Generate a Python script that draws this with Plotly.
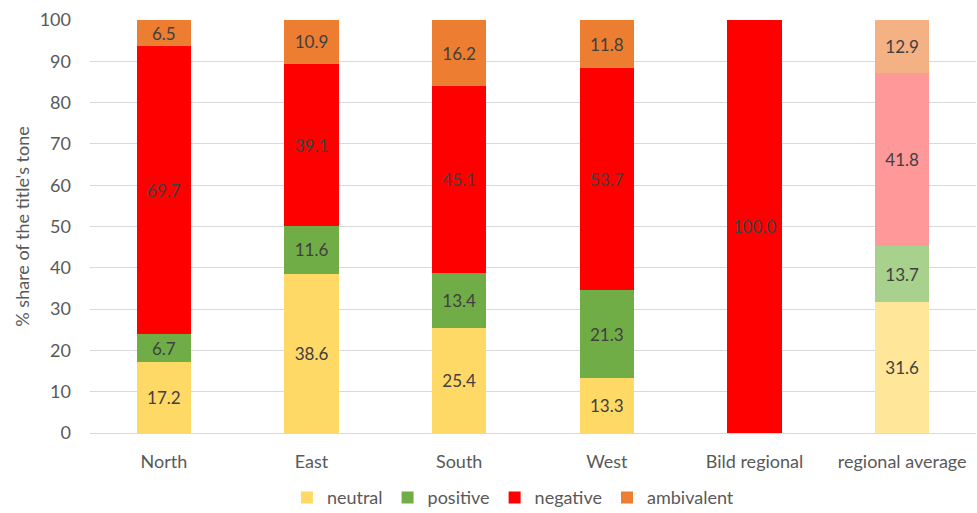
import plotly.graph_objects as go

categories = ["North", "East", "South", "West", "Bild regional", "regional average"]
neutral = [17.2, 38.6, 25.4, 13.3, 0.0, 31.6]
positive = [6.7, 11.6, 13.4, 21.3, 0.0, 13.7]
negative = [69.7, 39.1, 45.1, 53.7, 100.0, 41.8]
ambivalent = [6.5, 10.9, 16.2, 11.8, 0.0, 12.9]

y_ticks = [0, 10, 20, 30, 40, 50, 60, 70, 80, 90, 100]

series = [
    ("neutral", neutral, "#FFD966", "#FFE699"),
    ("positive", positive, "#70AD47", "#A9D18E"),
    ("negative", negative, "#FF0000", "#FF9999"),
    ("ambivalent", ambivalent, "#ED7D31", "#F4B183"),
]

FONT = "Lato, sans-serif"

fig = go.Figure()
for name, vals, base_col, avg_col in series:
    colors = [avg_col if c == "regional average" else base_col for c in categories]
    ys = [v if v > 0 else None for v in vals]
    texts = [f"{v:.1f}" if v > 0 else "" for v in vals]
    fig.add_trace(go.Bar(
        name=name,
        x=categories,
        y=ys,
        text=texts,
        textposition="inside",
        insidetextanchor="middle",
        textangle=0,
        textfont=dict(family=FONT, size=18, color="#404040"),
        marker=dict(color=colors, line=dict(width=0)),
        width=0.37,
        hoverinfo="skip",
    ))

fig.update_layout(
    barmode="stack",
    width=977,
    height=513,
    margin=dict(l=90, r=1, t=20, b=80, autoexpand=False),
    paper_bgcolor="white",
    plot_bgcolor="white",
    font=dict(family=FONT, size=18, color="#595959"),
    uniformtext=dict(minsize=8, mode="show"),
    legend=dict(
        orientation="h",
        x=0.525, xanchor="center",
        xref="container",
        yref="paper",
        y=-0.112, yanchor="top",
        font=dict(family=FONT, size=18, color="#595959"),
        itemwidth=30,
        traceorder="normal",
    ),
    xaxis=dict(
        showgrid=False,
        showline=True,
        linecolor="#D9D9D9",
        linewidth=1,
        ticks="",
        ticklabelstandoff=12,
        tickfont=dict(family=FONT, size=18, color="#595959"),
    ),
    yaxis=dict(
        range=[0, 100],
        tickvals=y_ticks,
        showgrid=True,
        gridcolor="#D9D9D9",
        gridwidth=1,
        zeroline=False,
        ticks="",
        ticklabelstandoff=18,
        tickfont=dict(family=FONT, size=18, color="#595959"),
        title=dict(text="% share of the title's tone", font=dict(family=FONT, size=18, color="#595959"), standoff=5),
    ),
)

fig.write_html("out.html")
